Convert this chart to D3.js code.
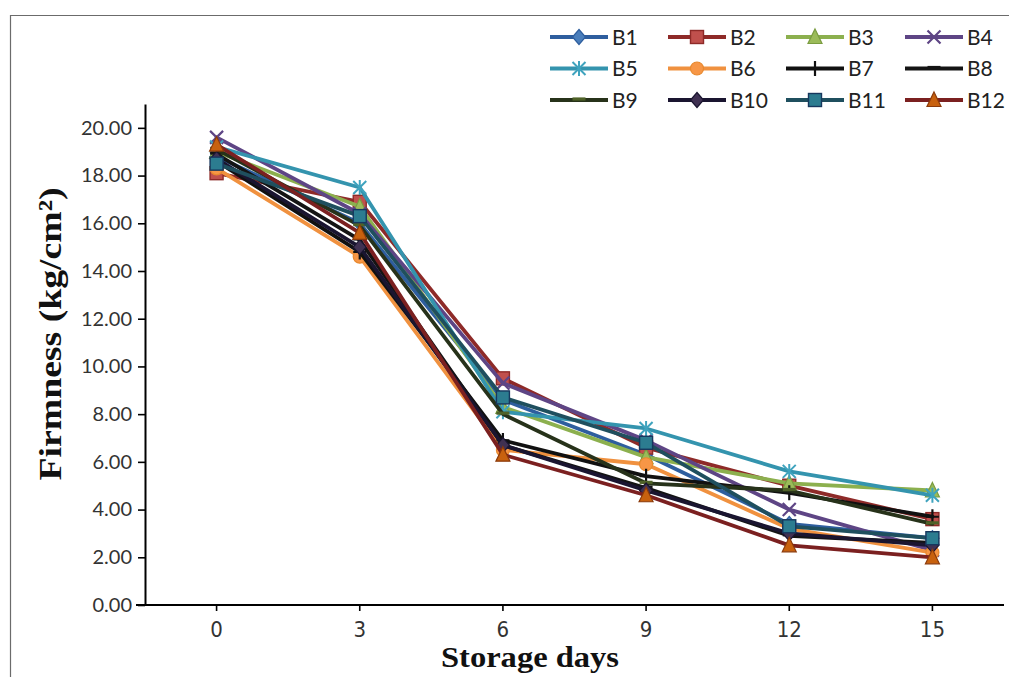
<!DOCTYPE html>
<html>
<head>
<meta charset="utf-8">
<script src="https://cdn.jsdelivr.net/npm/d3@7"></script>
<style>
  html, body { margin: 0; padding: 0; background: #fff; }
  svg { display: block; }
</style>
</head>
<body>
<svg id="chart" width="1009" height="677"></svg>
<script>
// Storage days (categories)
const days = [0, 3, 6, 9, 12, 15];

// Firmness (kg/cm²) per treatment
const B1  = [18.8, 16.0, 8.6, 6.3, 3.4, 2.8];
const B2  = [18.1, 16.9, 9.5, 6.6, 5.0, 3.6];
const B3  = [19.0, 16.7, 8.3, 6.2, 5.1, 4.8];
const B4  = [19.6, 16.4, 9.3, 6.9, 4.0, 2.3];
const B5  = [19.2, 17.5, 8.1, 7.4, 5.6, 4.6];
const B6  = [18.3, 14.6, 6.5, 5.9, 3.2, 2.2];
const B7  = [18.6, 14.8, 6.9, 5.4, 4.7, 3.7];
const B8  = [18.9, 15.3, 6.7, 4.9, 2.9, 2.6];
const B9  = [19.1, 15.9, 8.0, 5.1, 4.8, 3.4];
const B10 = [18.7, 15.0, 6.7, 4.8, 3.0, 2.5];
const B11 = [18.5, 16.3, 8.7, 6.8, 3.3, 2.8];
const B12 = [19.3, 15.6, 6.3, 4.6, 2.5, 2.0];

const seriesNames = ["B1","B2","B3","B4","B5","B6","B7","B8","B9","B10","B11","B12"];
const seriesValues = [B1,B2,B3,B4,B5,B6,B7,B8,B9,B10,B11,B12];

const yTicks = [0, 2, 4, 6, 8, 10, 12, 14, 16, 18, 20];

// Visual style per series: line colour, marker shape, marker fill/stroke
const styles = [
  { line: "#2E5E9E", shape: "diamond",  fill: "#4A7EBB", stroke: "#2E5E9E" },
  { line: "#8E2A28", shape: "square",   fill: "#C0504D", stroke: "#8E2A28" },
  { line: "#8CB04E", shape: "triangle", fill: "#9BBB59", stroke: "#7A9C40" },
  { line: "#5E4585", shape: "x",        fill: "none",    stroke: "#5E4585" },
  { line: "#3494AE", shape: "star",     fill: "none",    stroke: "#3FA3BE" },
  { line: "#F0913F", shape: "circle",   fill: "#F79646", stroke: "#E8892E" },
  { line: "#111111", shape: "plus",     fill: "none",    stroke: "#111111" },
  { line: "#141414", shape: "dash",     fill: "none",    stroke: "#141414" },
  { line: "#27321A", shape: "dash",     fill: "none",    stroke: "#4F6228" },
  { line: "#1A1530", shape: "diamond",  fill: "#403152", stroke: "#1A1530" },
  { line: "#1F4F5E", shape: "square",   fill: "#2C7C90", stroke: "#17375E" },
  { line: "#7B2020", shape: "triangle", fill: "#C8610E", stroke: "#8B3A0A" }
];

const svg = d3.select("#chart");

// Outer frame (top and left edges)
svg.append("path")
  .attr("d", "M10.5,677 V15.5 H1009")
  .attr("fill", "none")
  .attr("stroke", "#6b6b6b")
  .attr("stroke-width", 1.2);

const plotLeft = 145, plotRight = 1004, plotTop = 104, plotBottom = 605;

const x = d3.scaleBand().domain(days).range([plotLeft, plotRight]).padding(0);
const xc = d => x(d) + x.bandwidth() / 2;
const y = d3.scaleLinear().domain([0, 21]).range([plotBottom, plotTop]);

// Y axis
const yAxis = svg.append("g")
  .attr("transform", `translate(${plotLeft},0)`)
  .call(d3.axisLeft(y).tickValues(yTicks).tickFormat(d3.format(".2f")).tickSize(7).tickSizeOuter(0));
yAxis.select(".domain").attr("stroke", "#000").attr("stroke-width", 2);
yAxis.selectAll(".tick line").attr("stroke", "#000").attr("stroke-width", 1.6);
yAxis.selectAll(".tick text")
  .attr("x", -13)
  .attr("font-family", "Lato, 'Open Sans', sans-serif")
  .attr("font-size", 20)
  .attr("fill", "#333");

// X axis
const xAxis = svg.append("g")
  .attr("transform", `translate(0,${plotBottom})`)
  .call(d3.axisBottom(x).tickSize(6).tickSizeOuter(0).tickPadding(10));
xAxis.select(".domain").attr("stroke", "#000").attr("stroke-width", 2)
  .attr("d", `M${plotLeft - 9},0H${plotRight}`);
xAxis.selectAll(".tick line").attr("stroke", "#000").attr("stroke-width", 1.6);
xAxis.selectAll(".tick text")
  .attr("font-family", "'Liberation Sans Narrow', 'DejaVu Sans Condensed', sans-serif")
  .attr("font-size", 22)
  .attr("fill", "#333");

// Axis titles
svg.append("text")
  .attr("x", 530).attr("y", 667)
  .attr("text-anchor", "middle")
  .attr("font-family", "'Liberation Serif', 'DejaVu Serif', serif")
  .attr("font-weight", "bold")
  .attr("font-size", 29)
  .attr("textLength", 178)
  .attr("lengthAdjust", "spacingAndGlyphs")
  .attr("fill", "#111")
  .text("Storage days");

svg.append("text")
  .attr("transform", "translate(61,334) rotate(-90)")
  .attr("text-anchor", "middle")
  .attr("font-family", "'Liberation Serif', 'DejaVu Serif', serif")
  .attr("font-weight", "bold")
  .attr("font-size", 32)
  .attr("textLength", 293)
  .attr("lengthAdjust", "spacingAndGlyphs")
  .attr("fill", "#111")
  .text("Firmness (kg/cm²)");

// Marker drawing
function drawMarker(g, st, cx, cy) {
  const s = 6.5;
  switch (st.shape) {
    case "diamond":
      g.append("path").attr("d", `M${cx},${cy - s - 1}L${cx + s},${cy}L${cx},${cy + s + 1}L${cx - s},${cy}Z`)
        .attr("fill", st.fill).attr("stroke", st.stroke).attr("stroke-width", 1.2);
      break;
    case "square":
      g.append("rect").attr("x", cx - s).attr("y", cy - s).attr("width", 2 * s).attr("height", 2 * s)
        .attr("fill", st.fill).attr("stroke", st.stroke).attr("stroke-width", 1.4);
      break;
    case "triangle":
      g.append("path").attr("d", `M${cx},${cy - s - 1.5}L${cx + s + 0.5},${cy + s}L${cx - s - 0.5},${cy + s}Z`)
        .attr("fill", st.fill).attr("stroke", st.stroke).attr("stroke-width", 1.2);
      break;
    case "circle":
      g.append("circle").attr("cx", cx).attr("cy", cy).attr("r", s)
        .attr("fill", st.fill).attr("stroke", st.stroke).attr("stroke-width", 1.2);
      break;
    case "x":
      g.append("path").attr("d", `M${cx - s},${cy - s}L${cx + s},${cy + s}M${cx - s},${cy + s}L${cx + s},${cy - s}`)
        .attr("stroke", st.stroke).attr("stroke-width", 2.2);
      break;
    case "star":
      g.append("path").attr("d",
        `M${cx - s},${cy - s}L${cx + s},${cy + s}M${cx - s},${cy + s}L${cx + s},${cy - s}M${cx},${cy - s - 1}L${cx},${cy + s + 1}`)
        .attr("stroke", st.stroke).attr("stroke-width", 2);
      break;
    case "plus":
      g.append("path").attr("d", `M${cx - s},${cy}L${cx + s},${cy}M${cx},${cy - s - 1}L${cx},${cy + s + 1}`)
        .attr("stroke", st.stroke).attr("stroke-width", 2.2);
      break;
    case "dash":
      g.append("path").attr("d", `M${cx - s},${cy - 1}L${cx + s},${cy - 1}`)
        .attr("stroke", st.stroke).attr("stroke-width", 3.2);
      break;
  }
}

// Series lines and markers
const line = d3.line().x((d, i) => xc(days[i])).y(d => y(d));
const plot = svg.append("g");
seriesValues.forEach((vals, k) => {
  const st = styles[k];
  const g = plot.append("g").attr("class", "series " + seriesNames[k]);
  g.append("path")
    .attr("d", line(vals))
    .attr("fill", "none")
    .attr("stroke", st.line)
    .attr("stroke-width", 3.8)
    .attr("stroke-linejoin", "round")
    .attr("stroke-linecap", "round");
  vals.forEach((v, i) => drawMarker(g, st, xc(days[i]), y(v)));
});

// Legend: 3 rows x 4 columns
const legCols = [550, 668, 786, 905];
const legRows = [37, 68.5, 100];
const legend = svg.append("g");
seriesNames.forEach((name, k) => {
  const st = styles[k];
  const lx = legCols[k % 4], ly = legRows[Math.floor(k / 4)];
  const g = legend.append("g");
  g.append("line").attr("x1", lx).attr("x2", lx + 58).attr("y1", ly).attr("y2", ly)
    .attr("stroke", st.line).attr("stroke-width", 3.8);
  drawMarker(g, st, lx + 29, ly);
  g.append("text").attr("x", lx + 62).attr("y", ly).attr("dy", "0.36em")
    .attr("font-family", "Lato, 'Open Sans', sans-serif")
    .attr("font-size", 21)
    .attr("fill", "#222")
    .text(name);
});
</script>
</body>
</html>
